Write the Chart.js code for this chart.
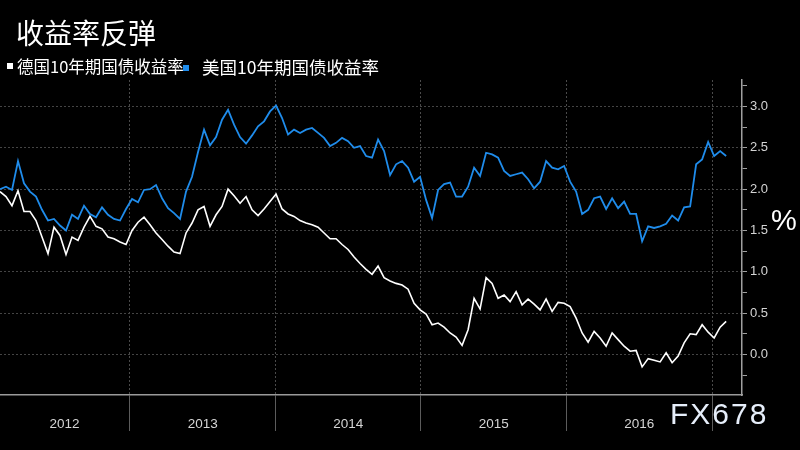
<!DOCTYPE html>
<html>
<head>
<meta charset="utf-8">
<script src="https://cdn.jsdelivr.net/npm/chart.js@4.4.0/dist/chart.umd.min.js"></script>
<style>
  html, body { margin: 0; padding: 0; background: #000; }
  #wrap { position: relative; width: 800px; height: 450px; overflow: hidden; background: #000; }
  #chart { position: absolute; left: 0; top: 0; }
  .title { position: absolute; left: 16px; top: 18px; color: #fff; font: 28px "Noto Sans CJK SC"; line-height: 1; }
  .legend { position: absolute; top: 58px; color: #fff; font: 16.5px "Noto Sans CJK SC"; line-height: 1; white-space: nowrap; }
  .swatch { position: absolute; width: 6px; height: 6px; }
  .pct { position: absolute; left: 771px; top: 206px; color: #fff; font: 29px "Liberation Sans"; line-height: 1; }
  .mark { position: absolute; left: 670px; top: 399px; color: #e6eefa; font: 30px "Liberation Sans"; letter-spacing: 2px; line-height: 1; }
</style>
</head>
<body>
<div id="wrap">
  <canvas id="chart" width="800" height="450"></canvas>
  <div class="title">收益率反弹</div>
  <div class="swatch" style="left:7px;top:63px;background:#fff"></div>
  <div class="legend" style="left:17px">德国10年期国债收益率</div>
  <div class="swatch" style="left:183px;top:65px;background:#1f8ceb"></div>
  <div class="legend" style="left:202px;font-size:17.5px">美国10年期国债收益率</div>
  <div class="pct">%</div>
  <div class="mark">FX678</div>
</div>
<script>
// samples roughly every two weeks, from mid-Feb 2012 to Jan 2017
const sampleStart = 2012.107;
const sampleStep = 0.04124;

// 德国10年期国债收益率 (%)
const deYield = [
  1.97, 1.91, 1.80, 1.98, 1.73, 1.73, 1.62, 1.42, 1.22, 1.54,
  1.44, 1.21, 1.42, 1.38, 1.54, 1.67, 1.55, 1.52, 1.42, 1.40,
  1.36, 1.33, 1.50, 1.60, 1.66, 1.57, 1.47, 1.39, 1.31, 1.24,
  1.22, 1.47, 1.59, 1.75, 1.79, 1.55, 1.69, 1.79, 2.00, 1.92,
  1.83, 1.91, 1.75, 1.68, 1.76, 1.85, 1.94, 1.76, 1.70, 1.67,
  1.62, 1.59, 1.57, 1.54, 1.47, 1.40, 1.40, 1.33, 1.27, 1.18,
  1.10, 1.03, 0.97, 1.07, 0.93, 0.89, 0.86, 0.84, 0.79, 0.62,
  0.54, 0.49, 0.36, 0.38, 0.33, 0.26, 0.21, 0.11, 0.30, 0.68,
  0.55, 0.93, 0.86, 0.68, 0.72, 0.64, 0.76, 0.60, 0.67, 0.61,
  0.54, 0.67, 0.52, 0.63, 0.62, 0.58, 0.44, 0.26, 0.15, 0.28,
  0.20, 0.10, 0.26, 0.18, 0.10, 0.04, 0.05, -0.15, -0.05, -0.07,
  -0.09, 0.02, -0.10, -0.02, 0.14, 0.25, 0.24, 0.36, 0.27, 0.20,
  0.33, 0.40
];

// 美国10年期国债收益率 (%)
const usYield = [
  2.00, 2.03, 1.99, 2.34, 2.07, 1.97, 1.91, 1.75, 1.62, 1.64,
  1.56, 1.50, 1.69, 1.64, 1.80, 1.70, 1.66, 1.78, 1.69, 1.64,
  1.62, 1.76, 1.88, 1.84, 1.99, 2.00, 2.05, 1.89, 1.77, 1.71,
  1.64, 1.97, 2.15, 2.45, 2.72, 2.53, 2.63, 2.84, 2.96, 2.78,
  2.63, 2.55, 2.65, 2.76, 2.82, 2.94, 3.01, 2.86, 2.66, 2.72,
  2.68, 2.72, 2.74, 2.68, 2.62, 2.52, 2.56, 2.62, 2.58, 2.50,
  2.52, 2.40, 2.38, 2.60, 2.46, 2.17, 2.30, 2.34, 2.26, 2.09,
  2.15, 1.87, 1.65, 1.99, 2.06, 2.08, 1.91, 1.91, 2.03, 2.26,
  2.16, 2.44, 2.42, 2.38, 2.22, 2.16, 2.18, 2.20, 2.12, 2.01,
  2.09, 2.34, 2.26, 2.24, 2.28, 2.09, 1.97, 1.70, 1.75, 1.89,
  1.91, 1.76, 1.89, 1.77, 1.85, 1.70, 1.70, 1.37, 1.55, 1.53,
  1.55, 1.58, 1.68, 1.62, 1.78, 1.79, 2.30, 2.36, 2.57, 2.40,
  2.46, 2.40
];

// x axis: year boundaries and label positions
const yearBounds = [2013, 2014, 2015, 2016, 2017];
const yearLabels = ["2012", "2013", "2014", "2015", "2016"];
const yearLabelPos = [2012.55, 2013.5, 2014.5, 2015.5, 2016.5];

// y axis ticks (labels every 0.5, minor every 0.25)
const yTicks = [-0.25, 0, 0.25, 0.5, 0.75, 1, 1.25, 1.5, 1.75, 2, 2.25, 2.5, 2.75, 3, 3.25];

const xMin = 2012.107, xMax = 2017.206;
const yMin = -0.49, yMax = 3.32;

const toPoints = (arr) => arr.map((v, i) => ({ x: sampleStart + i * sampleStep, y: v }));
const isBound = (v) => yearBounds.some((b) => Math.abs(b - v) < 1e-6);
const isMajor = (v) => Math.abs(v * 2 - Math.round(v * 2)) < 1e-6;

const ctx = document.getElementById("chart").getContext("2d");
new Chart(ctx, {
  type: "line",
  data: {
    datasets: [
      {
        label: "德国10年期国债收益率",
        data: toPoints(deYield),
        borderColor: "#ffffff",
        borderWidth: 1.6,
        pointRadius: 0,
        tension: 0,
        order: 1,
      },
      {
        label: "美国10年期国债收益率",
        data: toPoints(usYield),
        borderColor: "#1f8ceb",
        borderWidth: 1.8,
        pointRadius: 0,
        tension: 0,
        order: 0,
      },
    ],
  },
  options: {
    responsive: false,
    animation: false,
    layout: { padding: { top: 80, left: 0, right: 0, bottom: 0 } },
    plugins: { legend: { display: false }, tooltip: { enabled: false } },
    scales: {
      x: {
        type: "linear",
        min: xMin,
        max: xMax,
        afterBuildTicks: (s) => {
          s.ticks = yearBounds.concat(yearLabelPos).map((v) => ({ value: v }));
        },
        afterFit: (s) => { s.height = 55; },
        ticks: {
          autoSkip: false,
          maxRotation: 0,
          padding: -15,
          color: "#d4d4d4",
          font: { family: "Liberation Sans", size: 13.5 },
          callback: (v) => {
            const k = yearLabelPos.findIndex((p) => Math.abs(p - v) < 1e-6);
            return k >= 0 ? yearLabels[k] : "";
          },
        },
        grid: {
          color: (c) => (c.tick && isBound(c.tick.value) ? "#4a4a4a" : "transparent"),
          tickColor: (c) => (c.tick && isBound(c.tick.value) ? "#5c5c5c" : "transparent"),
          tickLength: 36,
          tickBorderDash: [],
        },
        border: { color: "#9a9a9a", width: 1.5, dash: [2, 2] },
      },
      y: {
        position: "right",
        min: yMin,
        max: yMax,
        afterBuildTicks: (s) => {
          s.ticks = yTicks.map((v) => ({ value: v }));
        },
        afterFit: (s) => { s.width = 58; },
        ticks: {
          padding: 3,
          color: "#d4d4d4",
          font: { family: "Liberation Sans", size: 13 },
          callback: (v) => (isMajor(v) ? v.toFixed(1) : ""),
        },
        grid: {
          color: (c) => (c.tick && isMajor(c.tick.value) ? "#444444" : "transparent"),
          tickColor: "#a0a0a0",
          tickLength: 5,
          tickBorderDash: [],
        },
        border: { color: "#a0a0a0", width: 1.5, dash: [2, 2] },
      },
    },
  },
});
</script>
</body>
</html>
